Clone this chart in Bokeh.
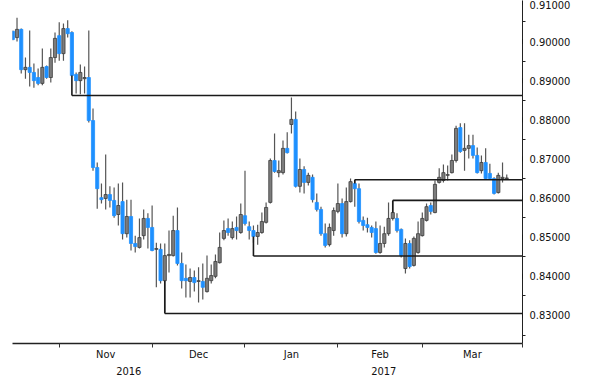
from bokeh.plotting import figure
from bokeh.models import Range1d, LinearAxis, FixedTicker, PolyAnnotation, Label, ColumnDataSource, PrintfTickFormatter
from bokeh.embed import file_html
from bokeh.resources import INLINE

# EUR/GBP daily candles, first candle = 17 Oct 2016 (index -1), trading days only
first_index = -1
opens = [0.9026, 0.9010, 0.9031, 0.8928, 0.8934, 0.8921, 0.8908, 0.8893, 0.8936, 0.8908,
         0.8959, 0.9015, 0.8969, 0.9033, 0.9023, 0.8916, 0.8900, 0.8905, 0.8908, 0.8798,
         0.8678, 0.8601, 0.8599, 0.8609, 0.8594, 0.8558, 0.8591, 0.8509, 0.8553, 0.8484,
         0.8474, 0.8504, 0.8548, 0.8525, 0.8469, 0.8469, 0.8389, 0.8453, 0.8453, 0.8517,
         0.8433, 0.8395, 0.8387, 0.8397, 0.8387, 0.8387, 0.8361, 0.8389, 0.8400, 0.8435,
         0.8497, 0.8522, 0.8499, 0.8525, 0.8512, 0.8555, 0.8527, 0.8517, 0.8502, 0.8512,
         0.8538, 0.8589, 0.8696, 0.8665, 0.8665, 0.8727, 0.8788, 0.8801, 0.8630, 0.8673,
         0.8640, 0.8653, 0.8589, 0.8571, 0.8509, 0.8481, 0.8517, 0.8566, 0.8586, 0.8509,
         0.8591, 0.8637, 0.8624, 0.8543, 0.8532, 0.8525, 0.8522, 0.8461, 0.8484, 0.8509,
         0.8548, 0.8548, 0.8520, 0.8420, 0.8484, 0.8428, 0.8461, 0.8504, 0.8543, 0.8581,
         0.8563, 0.8640, 0.8645, 0.8658, 0.8665, 0.8696, 0.8780, 0.8722, 0.8727, 0.8734,
         0.8709, 0.8670, 0.8691, 0.8663, 0.8650, 0.8614, 0.8650, 0.8650]
highs = [0.9028, 0.9061, 0.9033, 0.8959, 0.9028, 0.8944, 0.8931, 0.8982, 0.8939, 0.8982,
         0.9023, 0.9049, 0.9046, 0.9054, 0.9026, 0.8921, 0.8941, 0.8936, 0.9028, 0.8829,
         0.8691, 0.8637, 0.8711, 0.8630, 0.8627, 0.8637, 0.8640, 0.8596, 0.8596, 0.8504,
         0.8548, 0.8571, 0.8561, 0.8581, 0.8486, 0.8484, 0.8484, 0.8517, 0.8555, 0.8576,
         0.8461, 0.8430, 0.8420, 0.8415, 0.8423, 0.8433, 0.8453, 0.8430, 0.8456, 0.8512,
         0.8543, 0.8548, 0.8540, 0.8553, 0.8586, 0.8670, 0.8540, 0.8530, 0.8532, 0.8563,
         0.8589, 0.8701, 0.8765, 0.8696, 0.8747, 0.8768, 0.8857, 0.8821, 0.8701, 0.8681,
         0.8665, 0.8660, 0.8612, 0.8578, 0.8535, 0.8535, 0.8576, 0.8637, 0.8599, 0.8627,
         0.8650, 0.8647, 0.8637, 0.8553, 0.8550, 0.8530, 0.8540, 0.8530, 0.8527, 0.8589,
         0.8594, 0.8561, 0.8522, 0.8497, 0.8492, 0.8502, 0.8540, 0.8563, 0.8586, 0.8589,
         0.8645, 0.8676, 0.8686, 0.8683, 0.8711, 0.8785, 0.8791, 0.8791, 0.8762, 0.8762,
         0.8729, 0.8709, 0.8727, 0.8688, 0.8653, 0.8665, 0.8691, 0.8660]
lows = [0.9003, 0.9000, 0.8918, 0.8905, 0.8885, 0.8882, 0.8888, 0.8888, 0.8905, 0.8895,
        0.8946, 0.8951, 0.8951, 0.9010, 0.8911, 0.8867, 0.8865, 0.8867, 0.8793, 0.8670,
        0.8573, 0.8586, 0.8571, 0.8576, 0.8550, 0.8530, 0.8494, 0.8499, 0.8466, 0.8461,
        0.8471, 0.8494, 0.8471, 0.8464, 0.8372, 0.8382, 0.8308, 0.8410, 0.8451, 0.8428,
        0.8369, 0.8346, 0.8346, 0.8361, 0.8333, 0.8341, 0.8359, 0.8382, 0.8395, 0.8433,
        0.8492, 0.8504, 0.8494, 0.8494, 0.8509, 0.8530, 0.8494, 0.8486, 0.8481, 0.8509,
        0.8535, 0.8586, 0.8665, 0.8653, 0.8660, 0.8714, 0.8765, 0.8627, 0.8614, 0.8612,
        0.8632, 0.8589, 0.8566, 0.8504, 0.8474, 0.8476, 0.8504, 0.8561, 0.8499, 0.8502,
        0.8589, 0.8578, 0.8535, 0.8517, 0.8512, 0.8499, 0.8458, 0.8458, 0.8474, 0.8504,
        0.8543, 0.8512, 0.8448, 0.8407, 0.8420, 0.8425, 0.8458, 0.8502, 0.8540, 0.8558,
        0.8561, 0.8637, 0.8640, 0.8645, 0.8663, 0.8691, 0.8716, 0.8670, 0.8701, 0.8701,
        0.8663, 0.8663, 0.8647, 0.8647, 0.8609, 0.8612, 0.8640, 0.8647]
closes = [0.9005, 0.9031, 0.8928, 0.8934, 0.8921, 0.8900, 0.8893, 0.8934, 0.8908, 0.8959,
          0.9008, 0.8969, 0.9033, 0.9020, 0.8913, 0.8900, 0.8921, 0.8908, 0.8798, 0.8678,
          0.8624, 0.8596, 0.8609, 0.8594, 0.8555, 0.8581, 0.8509, 0.8553, 0.8484, 0.8476,
          0.8499, 0.8548, 0.8525, 0.8466, 0.8471, 0.8389, 0.8453, 0.8456, 0.8517, 0.8433,
          0.8389, 0.8389, 0.8397, 0.8384, 0.8389, 0.8372, 0.8395, 0.8402, 0.8438, 0.8474,
          0.8517, 0.8512, 0.8522, 0.8517, 0.8558, 0.8535, 0.8517, 0.8502, 0.8512, 0.8540,
          0.8576, 0.8696, 0.8668, 0.8670, 0.8727, 0.8716, 0.8801, 0.8630, 0.8673, 0.8640,
          0.8658, 0.8596, 0.8571, 0.8509, 0.8479, 0.8525, 0.8568, 0.8586, 0.8509, 0.8591,
          0.8642, 0.8624, 0.8540, 0.8530, 0.8525, 0.8512, 0.8461, 0.8484, 0.8509, 0.8548,
          0.8563, 0.8517, 0.8453, 0.8484, 0.8425, 0.8497, 0.8509, 0.8548, 0.8578, 0.8566,
          0.8635, 0.8653, 0.8665, 0.8660, 0.8696, 0.8778, 0.8719, 0.8727, 0.8734, 0.8709,
          0.8665, 0.8691, 0.8650, 0.8650, 0.8612, 0.8658, 0.8653, 0.86514]

last_price = 0.86514
price_ticks = [0.83, 0.84, 0.85, 0.86, 0.87, 0.88, 0.89, 0.90, 0.91]
price_minor_ticks = [0.825, 0.835, 0.845, 0.855, 0.865, 0.875, 0.885, 0.895, 0.905]
month_names = ["Nov", "Dec", "Jan", "Feb", "Mar"]
month_start_idx = [10, 32, 54, 76, 96]
year_names = ["2016", "2017"]
year_start_idx = 54
level_prices = [0.8862, 0.8305, 0.8452, 0.8647, 0.8594]
level_start_idx = [13, 35, 56, 80, 89]

X0, X1 = -1.07, 119.73
Y0, Y1 = 0.822846, 0.910476
FRAME_W, FRAME_H = 510.0, 343.0
PX_X = FRAME_W / (X1 - X0)
PX_Y = FRAME_H / (Y1 - Y0)
FONT = "DejaVu Sans Condensed"
FS = "11px"

BLUE = "#1e90ff"
GRAY = "#7c7c7c"

xs = list(range(first_index, first_index + len(opens)))
up = [c >= o for o, c in zip(opens, closes)]
src = ColumnDataSource(dict(
    x=xs,
    top=[max(o, c) for o, c in zip(opens, closes)],
    bottom=[min(o, c) for o, c in zip(opens, closes)],
    high=highs, low=lows,
    fill=[GRAY if u else BLUE for u in up],
    line=["#3c3c3c" if u else BLUE for u in up],
))

p = figure(width=600, height=391, x_range=Range1d(X0, X1), y_range=Range1d(Y0, Y1),
           output_backend="svg", toolbar_location=None, y_axis_location="right",
           x_axis_location=None, min_border_left=12, min_border_right=78,
           min_border_top=0, min_border_bottom=48)
p.outline_line_color = None
p.grid.visible = False
p.background_fill_color = "white"

# right price axis
ya = p.yaxis[0]
ya.ticker = FixedTicker(ticks=price_ticks, minor_ticks=price_minor_ticks)
ya.formatter = PrintfTickFormatter(format="%.5f")
ya.major_tick_out = 6
ya.major_tick_in = 0
ya.major_tick_line_color = None
ya.minor_tick_out = 3
ya.minor_tick_in = 0
ya.minor_tick_line_color = "#222222"
ya.axis_line_color = "#222222"
ya.major_label_standoff = 1
ya.major_label_text_font = FONT
ya.major_label_text_font_size = FS
ya.major_label_text_color = "#111111"

# month axis (boundary ticks as minor ticks, labels centred in month)
bounds = month_start_idx + [X1]
month_mid = [(a + b) / 2 for a, b in zip(bounds[:-1], bounds[1:])]
xa = LinearAxis(ticker=FixedTicker(ticks=month_mid, minor_ticks=bounds),
                major_label_overrides={m: n for m, n in zip(month_mid, month_names)})
xa.major_tick_out = 0
xa.major_tick_in = 0
xa.major_tick_line_color = None
xa.minor_tick_out = 4
xa.minor_tick_in = 0
xa.minor_tick_line_color = "#333333"
xa.axis_line_color = "#222222"
xa.axis_line_width = 1.3
xa.major_label_standoff = 0
xa.major_label_text_font = FONT
xa.major_label_text_font_size = FS
xa.major_label_text_color = "#111111"
p.add_layout(xa, "below")

# year axis
year_mid = [(X0 + year_start_idx) / 2, (year_start_idx + X1) / 2]
xa2 = LinearAxis(ticker=FixedTicker(ticks=year_mid, minor_ticks=[]),
                 major_label_overrides={m: n for m, n in zip(year_mid, year_names)})
xa2.axis_line_color = None
xa2.major_tick_line_color = None
xa2.minor_tick_line_color = None
xa2.major_tick_out = 0
xa2.major_tick_in = 0
xa2.minor_tick_out = 0
xa2.minor_tick_in = 0
xa2.major_label_standoff = 3
xa2.major_label_text_font = FONT
xa2.major_label_text_font_size = FS
xa2.major_label_text_color = "#111111"
p.add_layout(xa2, "below")

# year separator below the month labels
sep_w = 0.9 / PX_X
sy0 = Y0 - 17.0 / PX_Y
sy1 = Y0 - 35.0 / PX_Y
p.add_layout(PolyAnnotation(xs=[year_start_idx, year_start_idx + sep_w, year_start_idx + sep_w, year_start_idx],
                            ys=[sy0, sy0, sy1, sy1], fill_color="#b8b8b8", fill_alpha=1.0,
                            line_color=None))

# candles
p.segment(x0="x", x1="x", y0="low", y1="high", source=src, line_color="#555555", line_width=1.2)
p.vbar(x="x", width=0.75, top="top", bottom="bottom", source=src,
       fill_color="fill", line_color="line", line_width=0.8)

# hand-drawn support / resistance levels
for lv, si in zip(level_prices, level_start_idx):
    k = si - first_index
    anchor = min(opens[k], closes[k]) if lv < min(opens[k], closes[k]) else max(opens[k], closes[k])
    p.segment(x0=[si, si], x1=[si, X1], y0=[anchor, lv], y1=[lv, lv],
              line_color="#1a1a1a", line_width=1.6)

# triangle markers on the price axis
tw = 6.0 / PX_X
th = 2.6 / PX_Y
for t in price_ticks:
    p.add_layout(PolyAnnotation(xs=[X1, X1 + tw, X1], ys=[t + th, t, t - th],
                                fill_color="black", fill_alpha=1.0, line_color=None))

# last price tag
hh = 8.0 / PX_Y
tag_w = 62.0 / PX_X
p.add_layout(PolyAnnotation(xs=[X1, X1 + tw, X1 + tag_w, X1 + tag_w, X1 + tw],
                            ys=[last_price, last_price + hh, last_price + hh, last_price - hh, last_price - hh],
                            fill_color="black", fill_alpha=1.0, line_color=None))
p.add_layout(Label(x=X1 + 7.0 / PX_X, y=last_price, text="%.5f" % last_price,
                   text_color="white", text_font=FONT, text_font_size=FS,
                   text_baseline="middle", text_align="left"))

open("out.html", "w").write(file_html(p, INLINE))
